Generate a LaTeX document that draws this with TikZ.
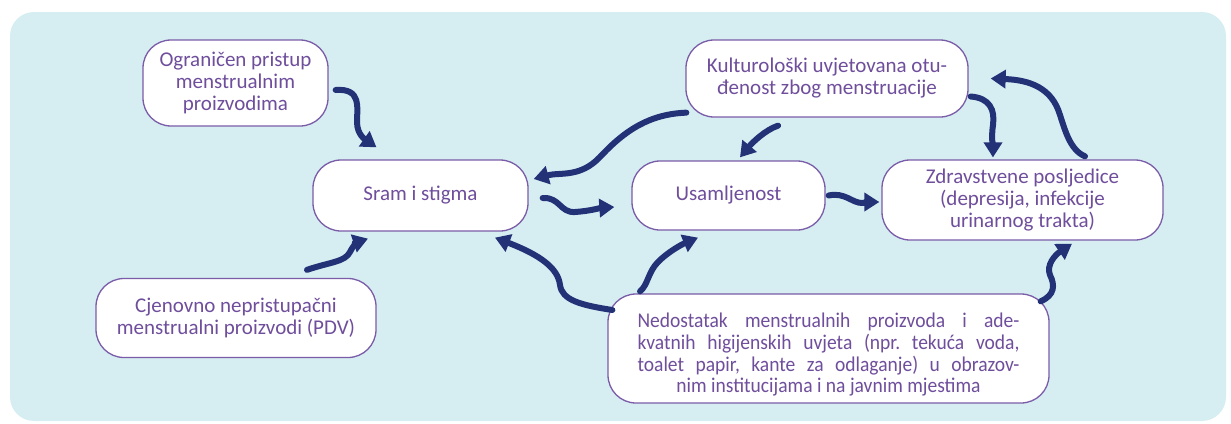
\documentclass[tikz,border=0pt]{standalone}
\usepackage{fontspec}
\setmainfont{Carlito}
\newfontfamily\narrowcarlito[FakeStretch=0.93]{Carlito}
\frenchspacing
\usetikzlibrary{arrows.meta, positioning, calc}
\definecolor{bgcyan}{RGB}{214, 238, 242}
\definecolor{boxpurple}{RGB}{123, 92, 168}
\definecolor{textpurple}{RGB}{111, 78, 156}
\definecolor{arrownavy}{RGB}{35, 49, 119}
\tikzset{
  causebox/.style={rectangle, draw=boxpurple, fill=white, rounded corners=#1, line width=1.3pt, text=textpurple, font=\fontsize{21}{22}\selectfont, align=center, inner sep=0pt},
  causebox/.default=28pt,
  flowarrow/.style={draw=arrownavy, line width=6pt, line cap=round, -{Triangle[width=18pt,length=15pt]}},
}

\begin{document}
\begin{tikzpicture}[x=1pt, y=-1pt]
\useasboundingbox (0,0) rectangle (1231,423);
\fill[bgcyan, rounded corners=24pt] (10,12) rectangle (1226,421);

% causes and consequences
\node[causebox, minimum width=185pt, minimum height=86pt] (nA) at (235.5,83) {Ograničen pristup\\menstrualnim\\proizvodima};
\node[causebox, minimum width=215pt, minimum height=71pt] (nB) at (420.5,195.5) {Sram i stigma};
\node[causebox, minimum width=280pt, minimum height=79pt] (nC) at (236,318) {Cjenovno nepristupačni\\menstrualni proizvodi (PDV)};
\node[causebox, minimum width=282pt, minimum height=77pt] (nD) at (827,78.5) {Kulturološki uvjetovana otu-\\đenost zbog menstruacije};
\node[causebox, minimum width=193pt, minimum height=69pt] (nE) at (728.5,195.5) {Usamljenost};
\node[causebox, minimum width=281pt, minimum height=80pt] (nF) at (1022.5,200) {Zdravstvene posljedice\\(depresija, infekcije\\urinarnog trakta)};
\node[causebox, minimum width=441pt, minimum height=109pt, font=\narrowcarlito\fontsize{21}{21.7}\selectfont] (nG) at (828.5,348.5) {%
  \makebox[382pt][s]{\rule{0pt}{27pt}Nedostatak menstrualnih proizvoda i ade-}\\
  \makebox[382pt][s]{kvatnih higijenskih uvjeta (npr. tekuća voda,}\\
  \makebox[382pt][s]{toalet papir, kante za odlaganje) u obrazov-}\\
  nim institucijama i na javnim mjestima};

% arrows
\draw[flowarrow] ($(nA.east)+(7,7)$) .. controls (362,88) and (357,108) .. (357,122) .. controls (357,135) and (366,140) .. ($(nB.north)+(-44,-12)$);
\draw[flowarrow] ($(nC.north)+(71,-8)$) .. controls (330,262) and (345,262) .. (350,252) .. controls (354,244) and (358,242) .. ($(nB.south)+(-52.5,7)$);
\draw[flowarrow] ($(nD.south west)+(1,-5)$) .. controls (650,114) and (625,130) .. (600,157) .. controls (580,178) and (560,172) .. ($(nB.east)+(5,-16.5)$);
\draw[flowarrow] ($(nB.east)+(14,2.5)$) .. controls (560,197) and (560,213) .. (575,212) .. controls (590,211) and (600,208) .. ($(nE.west)+(-17,11.5)$);
\draw[flowarrow] ($(nD.south)+(-49,8)$) .. controls (765,130) and (752,143) .. ($(nE.north)+(11.5,-3)$);
\draw[flowarrow] ($(nD.east)+(2,18)$) .. controls (990,98) and (995,110) .. (993,125) .. controls (991,138) and (993,148) .. ($(nF.north)+(-29.5,-2)$);
\draw[flowarrow] ($(nF.north)+(62.5,-3)$) .. controls (1070,150) and (1065,130) .. (1060,115) .. controls (1052,88) and (1030,80) .. ($(nD.east)+(22,0)$);
\draw[flowarrow] ($(nE.east)+(3,0)$) .. controls (845,192) and (852,203) .. (862,203) .. controls (868,203) and (873,202) .. ($(nF.west)+(-2,2)$);
\draw[flowarrow] ($(nG.west)+(5,-38.5)$) .. controls (580,305) and (562,300) .. (560,285) .. controls (558,268) and (540,255) .. ($(nB.south)+(74.5,6)$);
\draw[flowarrow] ($(nG.north)+(-188.5,-2)$) .. controls (648,285) and (648,272) .. (658,262) .. controls (670,250) and (685,243) .. ($(nE.south)+(-30.5,7)$);
\draw[flowarrow] ($(nG.north east)+(-9,8)$) .. controls (1055,295) and (1055,285) .. (1050,275) .. controls (1046,265) and (1055,255) .. ($(nF.south)+(49.5,3)$);
\end{tikzpicture}
\end{document}
